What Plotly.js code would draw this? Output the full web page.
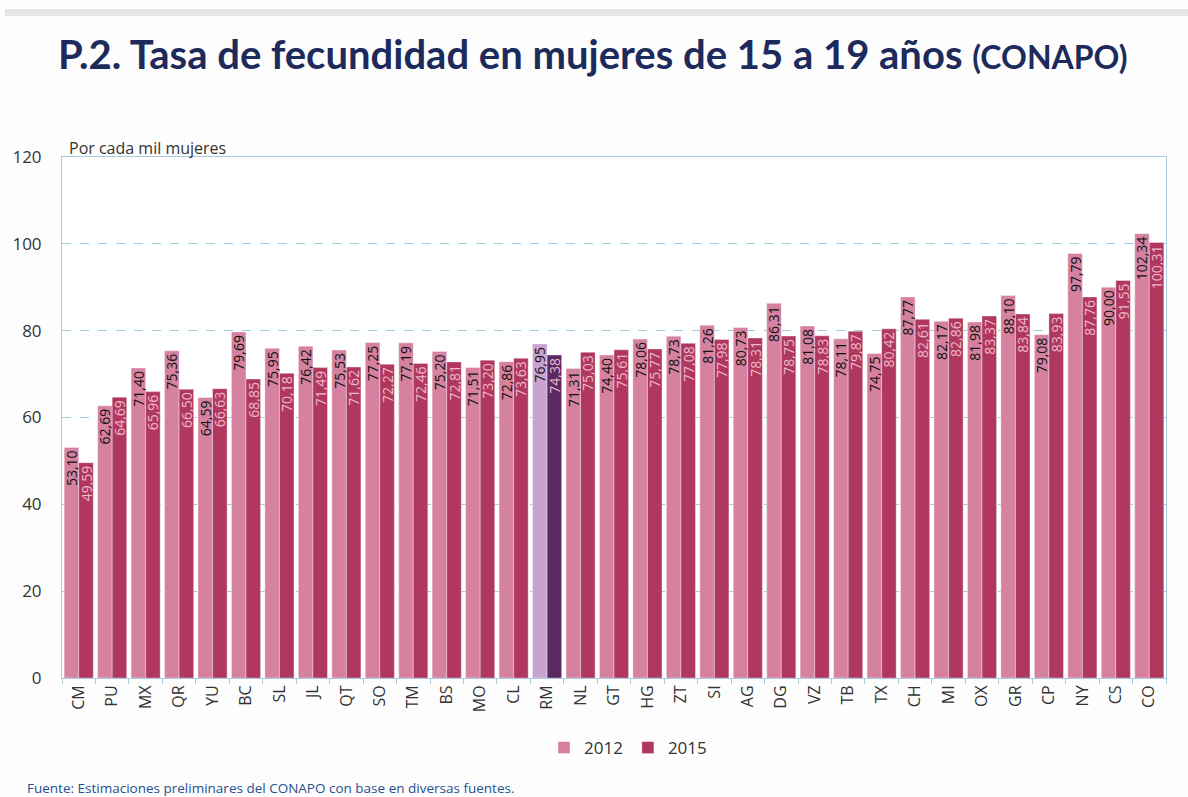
<!DOCTYPE html>
<html>
<head>
<meta charset="utf-8">
<script src="https://cdn.plot.ly/plotly-3.0.1.min.js"></script>
<style>
html,body{margin:0;padding:0;background:#fdfdfd;}
#chart{width:1188px;height:797px;}
</style>
</head>
<body>
<div id="chart"></div>
<script>
const categories = ["CM","PU","MX","QR","YU","BC","SL","JL","QT","SO","TM","BS","MO","CL","RM","NL","GT","HG","ZT","SI","AG","DG","VZ","TB","TX","CH","MI","OX","GR","CP","NY","CS","CO"];
const values2012 = [53.10,62.69,71.40,75.36,64.59,79.69,75.95,76.42,75.53,77.25,77.19,75.20,71.51,72.86,76.95,71.31,74.40,78.06,78.73,81.26,80.73,86.31,81.08,78.11,74.75,87.77,82.17,81.98,88.10,79.08,97.79,90.00,102.34];
const values2015 = [49.59,64.69,65.96,66.50,66.63,68.85,70.18,71.49,71.62,72.27,72.46,72.81,73.20,73.63,74.38,75.03,75.61,75.77,77.08,77.98,78.31,78.75,78.83,79.87,80.42,82.61,82.86,83.37,83.84,83.93,87.76,91.55,100.31];
const seriesNames = ["2012","2015"];
const highlight = "RM";

const col2012 = "#d5819f", col2015 = "#b0385f";
const hl2012 = "#c9a2cf", hl2015 = "#5a2961";

function colors(base, hl){ return categories.map(c => c === highlight ? hl : base); }

const common = {
  type: "bar",
  x: categories,
  texttemplate: "%{y:.2f}",
  textposition: "inside",
  insidetextanchor: "end",
  textangle: -90,
  constraintext: "none",
  cliponaxis: false,
  hoverinfo: "x+y+name"
};

const traces = [
  Object.assign({}, common, {
    name: seriesNames[0], y: values2012,
    marker: {color: colors(col2012, hl2012), line: {color: "rgba(255,255,255,0.6)", width: 0.6}},
    textfont: {family: "Open Sans, sans-serif", size: 14, color: "#111111"}
  }),
  Object.assign({}, common, {
    name: seriesNames[1], y: values2015,
    marker: {color: colors(col2015, hl2015), line: {color: "rgba(255,255,255,0.6)", width: 0.6}},
    textfont: {family: "Open Sans, sans-serif", size: 14, color: "#eeb9cb"}
  })
];

const L = 62, R = 1166, T = 157, B = 678;
const W = R - L, H = B - T;
function px(x){ return (x - L) / W; }
function py(y){ return (B - y) / H; }

const layout = {
  width: 1188, height: 797,
  paper_bgcolor: "#fdfdfd", plot_bgcolor: "#ffffff",
  margin: {l: L, r: 1188 - R, t: T, b: 797 - B, pad: 0},
  separators: ",.",
  barmode: "group",
  bargap: 0.13,
  bargroupgap: 0,
  font: {family: "Lato, 'Open Sans', sans-serif", color: "#333333"},
  title: {
    text: "<b>P.2. Tasa de fecundidad en mujeres de 15 a 19 años <span style='font-size:32px'>(CONAPO)</span></b>",
    font: {family: "Lato, sans-serif", size: 40, color: "#1c2a5c"},
    xref: "container", yref: "container",
    x: 58/1188, xanchor: "left",
    y: 1 - 55/797, yanchor: "middle"
  },
  xaxis: {
    type: "category",
    tickangle: -90,
    tickfont: {family: "Open Sans, sans-serif", size: 16, color: "#333333"},
    ticks: "outside", tickson: "boundaries", ticklen: 5, tickcolor: "#a9cbe0",
    showline: true, linecolor: "#a9cbe0", linewidth: 1, mirror: true,
    showgrid: false, fixedrange: true
  },
  yaxis: {
    range: [0, 120], dtick: 20,
    tickfont: {family: "Open Sans, sans-serif", size: 17, color: "#333333"},
    ticklabelstandoff: 16,
    showgrid: true, gridcolor: "#9fcbe2", griddash: "dash", gridwidth: 1,
    zeroline: false,
    showline: true, linecolor: "#a9cbe0", linewidth: 1, mirror: true,
    fixedrange: true
  },
  legend: {
    orientation: "h",
    x: px(628), xanchor: "center",
    y: py(748), yanchor: "middle",
    font: {family: "Open Sans, sans-serif", size: 17, color: "#333333"},
    itemwidth: 30,
    tracegroupgap: 0,
    bgcolor: "rgba(0,0,0,0)"
  },
  annotations: [
    {text: "Por cada mil mujeres", xref: "paper", yref: "paper",
     x: px(67), y: py(148), xanchor: "left", yanchor: "middle", showarrow: false,
     font: {family: "Open Sans, sans-serif", size: 16, color: "#333333"}},
    {text: "Fuente: Estimaciones preliminares del CONAPO con base en diversas fuentes.", xref: "paper", yref: "paper",
     x: px(25), y: py(788), xanchor: "left", yanchor: "middle", showarrow: false,
     font: {family: "Open Sans, sans-serif", size: 13.5, color: "#24508e"}}
  ],
  shapes: [
    {type: "rect", xref: "paper", yref: "paper", layer: "below",
     x0: px(5), x1: px(1188), y0: py(16), y1: py(9),
     fillcolor: "#dedede", line: {width: 0}, opacity: 0.8}
  ],
  showlegend: true
};

Plotly.newPlot("chart", traces, layout, {staticPlot: true, displayModeBar: false});
</script>
</body>
</html>
